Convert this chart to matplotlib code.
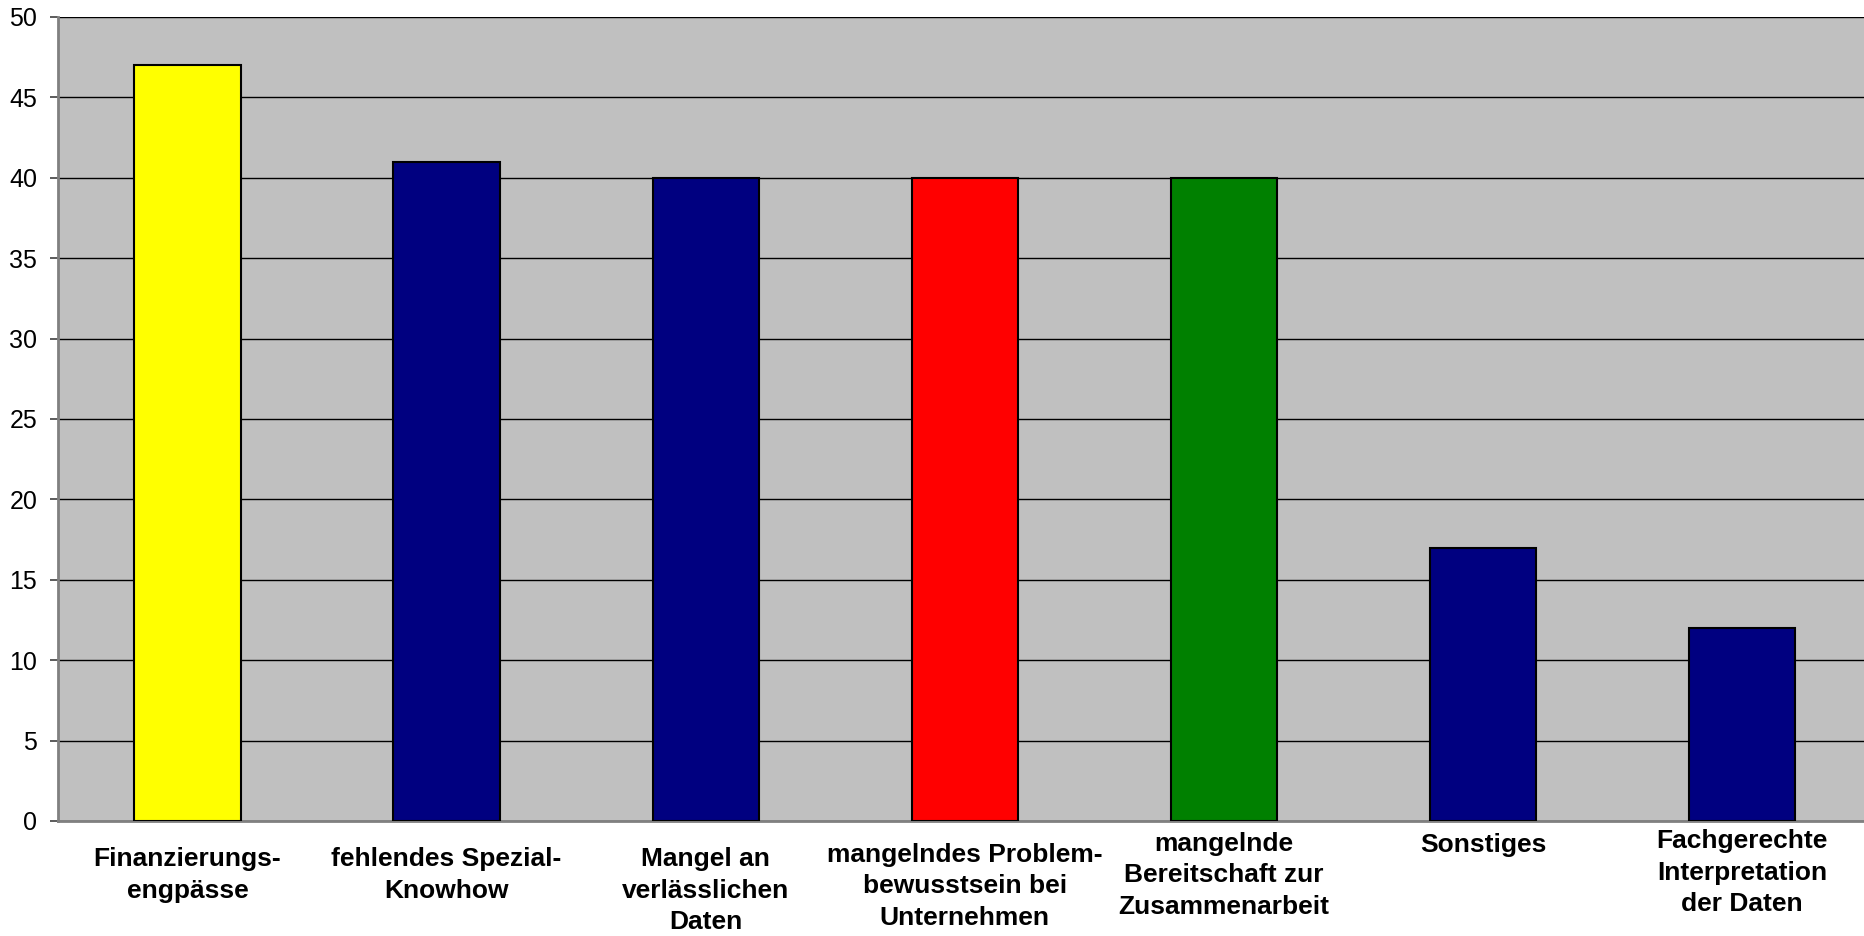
import matplotlib.pyplot as plt
from matplotlib import font_manager

categories = [
    "Finanzierungs-\nengpässe",
    "fehlendes Spezial-\nKnowhow",
    "Mangel an\nverlässlichen\nDaten",
    "mangelndes Problem-\nbewusstsein bei\nUnternehmen",
    "mangelnde\nBereitschaft zur\nZusammenarbeit",
    "Sonstiges",
    "Fachgerechte\nInterpretation\nder Daten",
]
values = [47, 41, 40, 40, 40, 17, 12]
bar_colors = ["#FFFF00", "#000080", "#000080", "#FF0000", "#008000", "#000080", "#000080"]
y_ticks = [0, 5, 10, 15, 20, 25, 30, 35, 40, 45, 50]

# label drop below axis, in points (Excel wrapped labels sit at uneven heights)
label_drop = [19, 19, 19, 16, 8, 9, 6]

names = {f.name for f in font_manager.fontManager.ttflist}
label_family = ["Liberation Sans Narrow", "Liberation Sans"] if "Liberation Sans Narrow" in names else ["Liberation Sans"]

fig = plt.figure(figsize=(18.64, 9.36), dpi=100)
ax = fig.add_axes([0.0311, 0.1229, 0.973, 0.859])
ax.set_facecolor("#C0C0C0")

x = list(range(len(categories)))
ax.bar(x, values, width=0.41, color=bar_colors, edgecolor="black", linewidth=1.5, zorder=3)

ax.set_xlim(-0.5, len(categories) - 0.5)
ax.set_ylim(0, 50)
ax.set_yticks(y_ticks)
ax.set_yticklabels([str(t) for t in y_ticks], family="Liberation Sans", fontsize=18)
ax.yaxis.grid(True, color="black", linewidth=1.0, zorder=1)
ax.tick_params(axis="y", length=6, width=1.2, color="#404040", pad=9)
ax.set_xticks([])

for side in ["top", "right"]:
    ax.spines[side].set_visible(False)
ax.spines["left"].set_color("#808080")
ax.spines["left"].set_linewidth(2)
ax.spines["bottom"].set_color("#808080")
ax.spines["bottom"].set_linewidth(2)

for xi, label, drop in zip(x, categories, label_drop):
    ax.annotate(label, xy=(xi, 0), xycoords=("data", "axes fraction"),
                xytext=(0, -drop), textcoords="offset points",
                ha="center", va="top", multialignment="center",
                fontsize=19, fontweight="bold", family=label_family,
                linespacing=1.38)

fig.savefig("out.png", dpi=100)
